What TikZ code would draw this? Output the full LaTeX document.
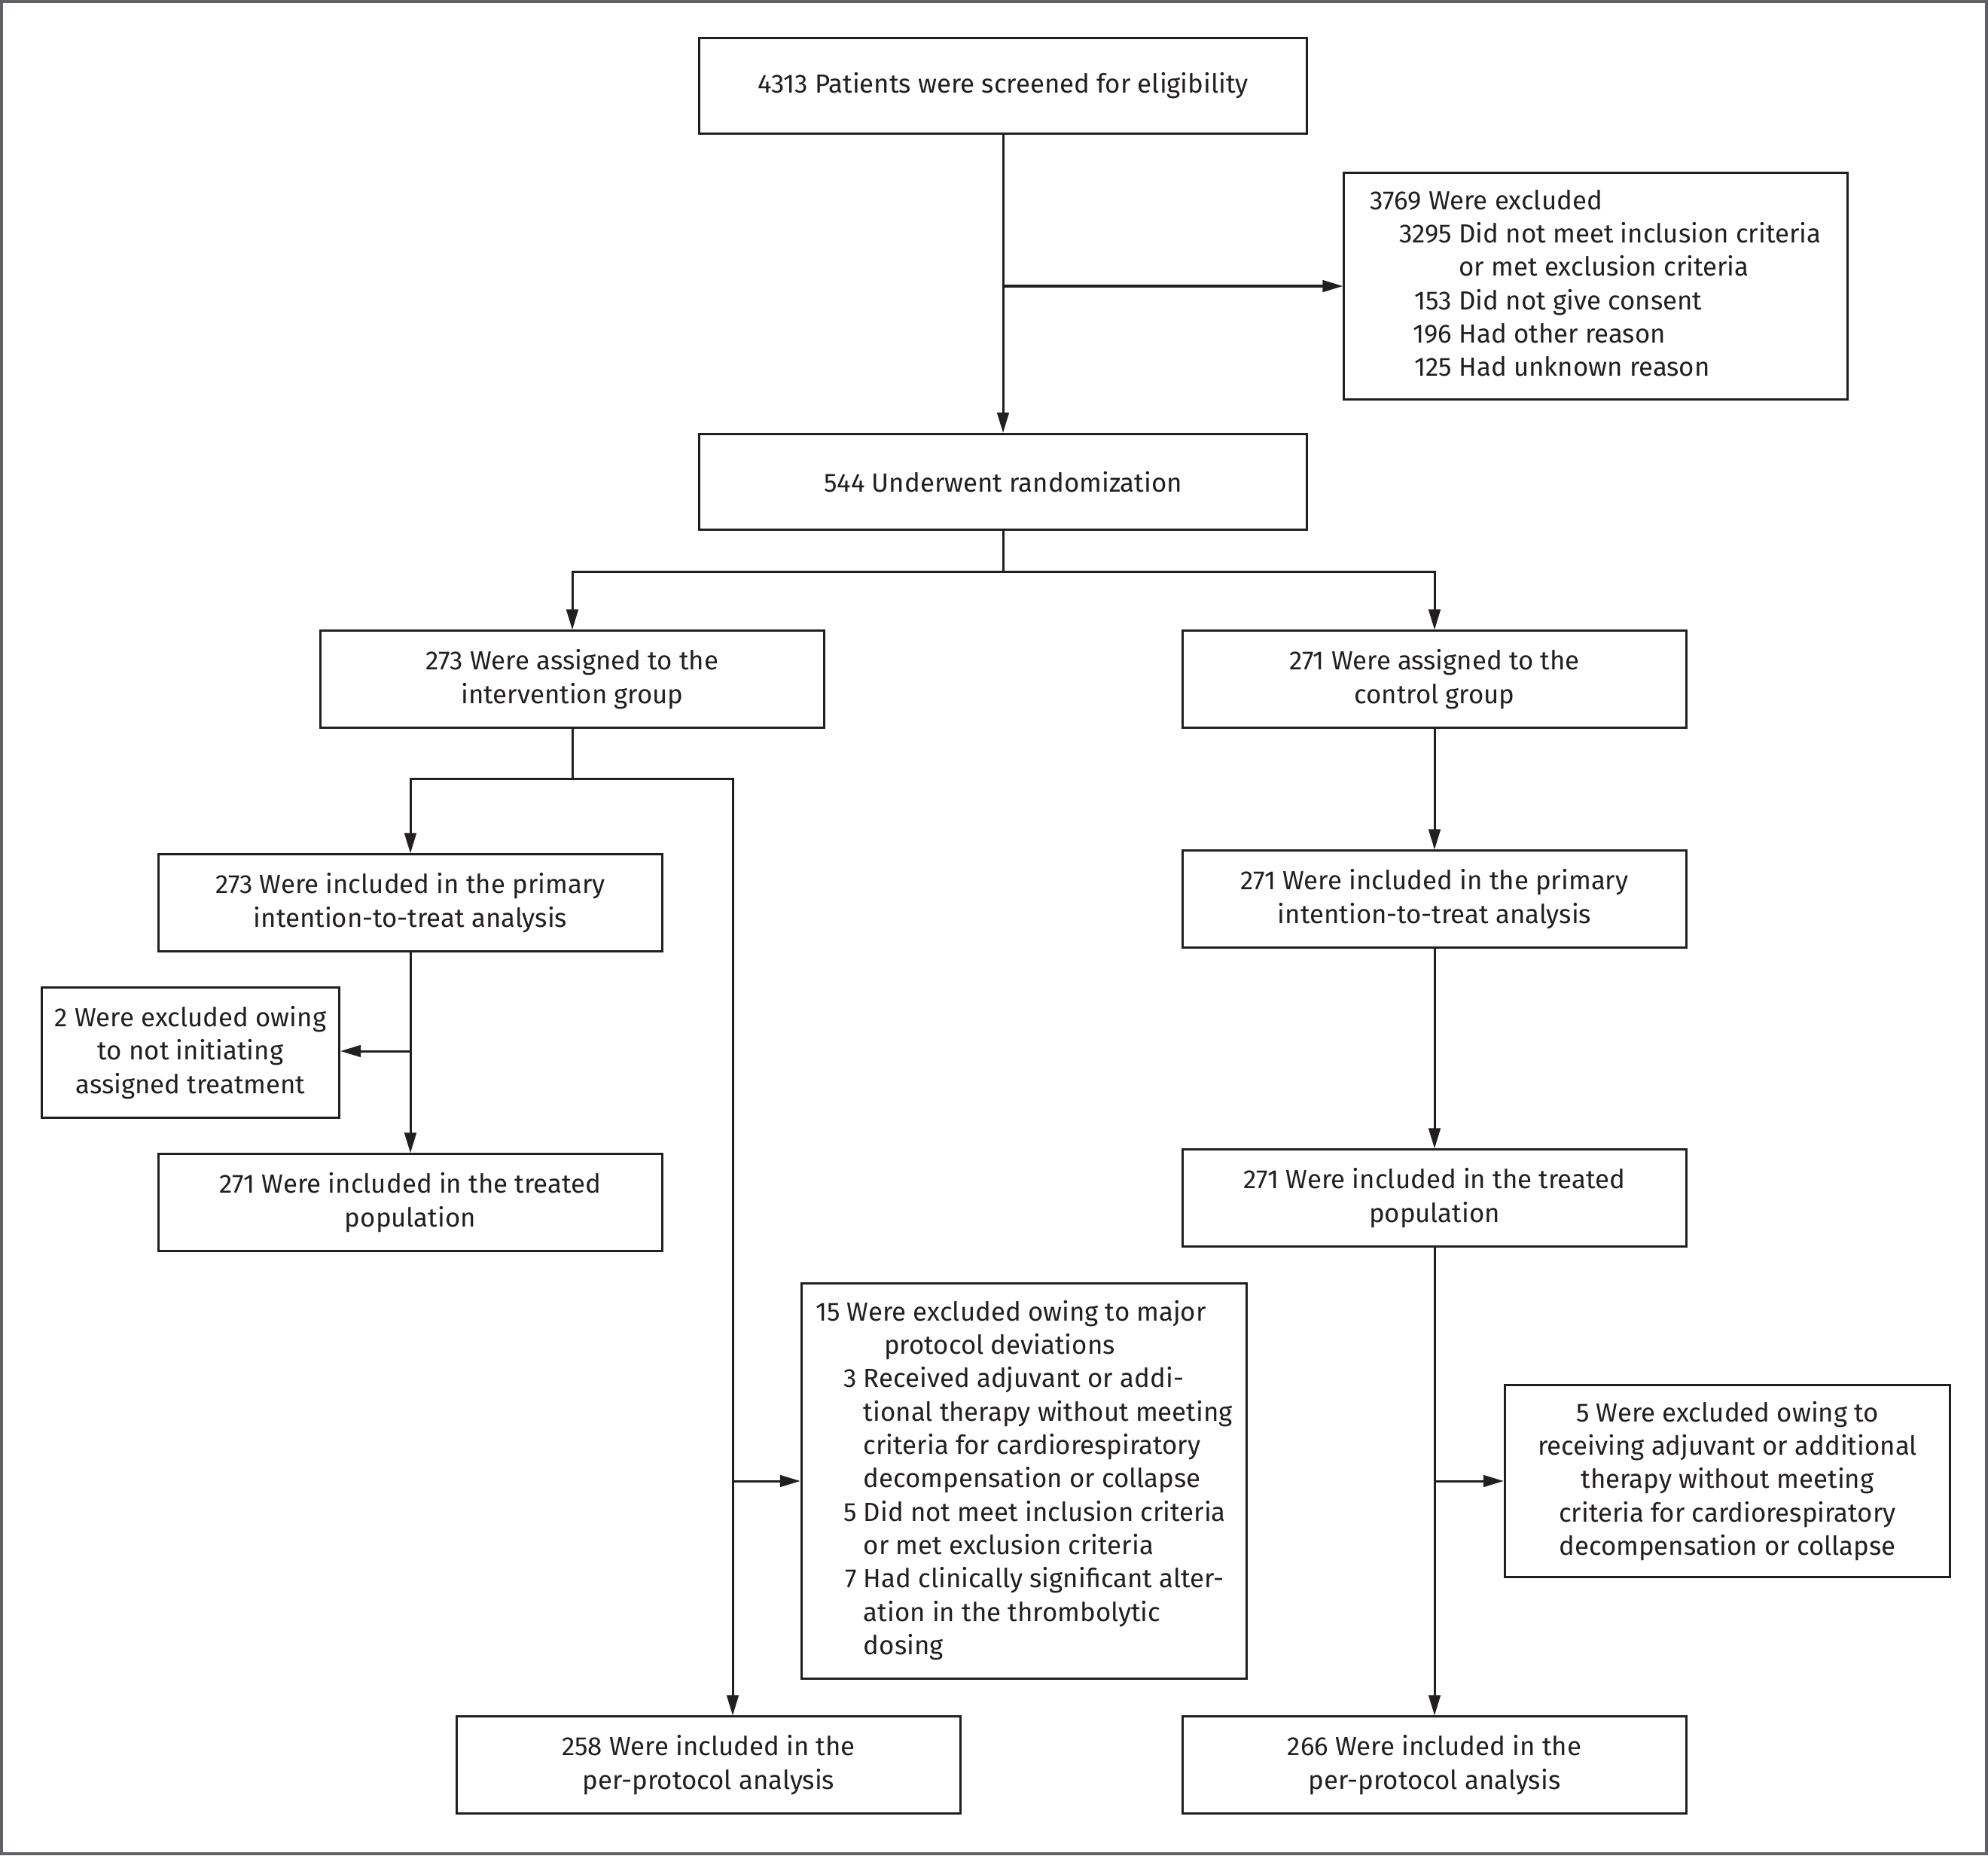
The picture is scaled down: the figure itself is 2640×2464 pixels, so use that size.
\documentclass[tikz,border=0pt]{standalone}
\usepackage{fontspec}
\setmainfont{Fira Sans}
\usetikzlibrary{arrows.meta}
\definecolor{ink}{HTML}{231F20}
\definecolor{frame}{HTML}{606066}
\tikzstyle{box} = [draw=ink, line width=0.03cm, shape=rectangle, inner sep=0pt, align=center, text=ink, font=\fontsize{9.9pt}{12.6pt}\selectfont]
\tikzstyle{wide} = [box, minimum width=8.07cm, minimum height=1.27cm]
\tikzstyle{mid} = [box, minimum width=6.68cm, minimum height=1.28cm]
\tikzstyle{line} = [draw=ink, line width=0.03cm]

\begin{document}
\begin{tikzpicture}[x=0.01cm, y=-0.01cm, >={Triangle[length=0.27cm,width=0.155cm]}]
    \useasboundingbox (0,0) rectangle (2640,2464);
    \draw [frame, line width=0.04cm] (2,2) rectangle (2638,2462);
    \draw (1332,114) node[wide] (scr) {4313 Patients were screened for eligibility};
    \draw (2119,380) node[box, minimum width=6.68cm, minimum height=3.01cm] (excl) {\begin{tabular}{@{\hspace{0.39cm}}r@{\ }l@{}}
        \multicolumn{2}{@{}l@{}}{3769 Were excluded}\\
        3295 & Did not meet inclusion criteria\\
         & or met exclusion criteria\\
        153 & Did not give consent\\
        196 & Had other reason\\
        125 & Had unknown reason
    \end{tabular}};
    \draw (1332,640) node[wide] (rand) {544 Underwent randomization};
    \draw (760,902) node[mid] (intv) {273 Were assigned to the\\intervention group};
    \draw (1905,902) node[mid] (ctrl) {271 Were assigned to the\\control group};
    \draw (545,1199) node[mid] (itti) {273 Were included in the primary\\intention-to-treat analysis};
    \draw (1905,1194) node[mid] (ittc) {271 Were included in the primary\\intention-to-treat analysis};
    \draw (253,1398) node[box, minimum width=3.95cm, minimum height=1.73cm] (exc2) {2 Were excluded owing\\to not initiating\\assigned treatment};
    \draw (545,1597) node[mid] (trti) {271 Were included in the treated\\population};
    \draw (1905,1591) node[mid] (trtc) {271 Were included in the treated\\population};
    \draw (1360,1967) node[box, minimum width=5.91cm, minimum height=5.25cm] (exc15) {\begin{tabular}{@{\hspace{0.37cm}}r@{\ }l@{}}
        \multicolumn{2}{@{}l@{}}{15 Were excluded owing to major}\\
        \multicolumn{2}{@{}l@{}}{\hspace{0.91cm}protocol deviations}\\
        3 & Received adjuvant or addi-\\
         & tional therapy without meeting\\
         & criteria for cardiorespiratory\\
         & decompensation or collapse\\
        5 & Did not meet inclusion criteria\\
         & or met exclusion criteria\\
        7 & Had clinically significant alter-\\
         & ation in the thrombolytic\\
         & dosing
    \end{tabular}};
    \draw (2294,1967) node[box, minimum width=5.91cm, minimum height=2.55cm] (exc5) {5 Were excluded owing to\\receiving adjuvant or additional\\therapy without meeting\\criteria for cardiorespiratory\\decompensation or collapse};
    \draw (941,2344) node[mid] (ppi) {258 Were included in the\\per-protocol analysis};
    \draw (1905,2344) node[mid] (ppc) {266 Were included in the\\per-protocol analysis};

    \coordinate (j1) at (scr.south |- excl.west);
    \coordinate (j2) at (1332,759);
    \coordinate (j3) at (760,1034);
    \coordinate (j4) at (973,1034);
    \coordinate (j5) at (545,1396);
    \draw [line,->] (scr) -- (rand);
    \draw [line,->] (j1) -- (excl.west);
    \draw [line] (rand) -- (j2);
    \draw [line,->] (j2) -| (intv);
    \draw [line,->] (j2) -| (ctrl);
    \draw [line] (intv) -- (j3);
    \draw [line,->] (j3) -| (itti);
    \draw [line,->] (j3) -- (j4) -- (j4 |- ppi.north);
    \draw [line,->] (j4 |- exc15.west) -- (exc15.west);
    \draw [line,->] (itti) -- (trti);
    \draw [line,->] (j5) -- (exc2.east |- j5);
    \draw [line,->] (ctrl) -- (ittc);
    \draw [line,->] (ittc) -- (trtc);
    \draw [line,->] (trtc) -- (ppc);
    \draw [line,->] (trtc.south |- exc5.west) -- (exc5.west);
\end{tikzpicture}
\end{document}
